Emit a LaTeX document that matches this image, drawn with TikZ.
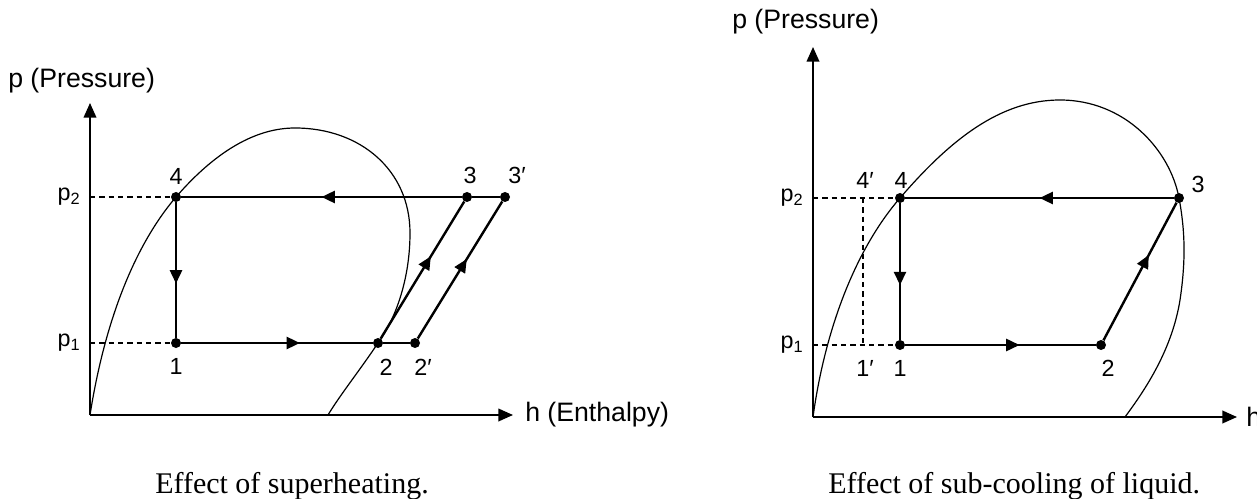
\documentclass[tikz,border=0pt]{standalone}
\usepackage{fontspec}
\setmainfont{Liberation Sans}
\newfontfamily\capfont{Liberation Serif}
\usetikzlibrary{arrows.meta,decorations.markings}
\begin{document}
\begin{tikzpicture}[x=0.75pt,y=-0.75pt,
  axis/.style={line width=1.3pt,-{Triangle[length=11pt,width=9.5pt]}},
  cyc/.style={line width=1.8pt},
  dome/.style={line width=0.9pt},
  guide/.style={line width=1.1pt,dash pattern=on 4pt off 3pt},
  dot/.style={circle,fill,inner sep=0pt,minimum size=7.5pt},
  lbl/.style={font=\fontsize{17.5}{18}\selectfont,inner sep=0pt},
  axlbl/.style={font=\fontsize{20}{22}\selectfont,inner sep=0pt},
  captext/.style={font=\capfont\fontsize{22.5}{24}\selectfont,inner sep=0pt,anchor=base west},
  midarrow/.style={postaction={decorate},decoration={markings,mark=at position #1 with {\arrow{Triangle[length=10pt,width=9pt]}}}},
]
\useasboundingbox (0,0) rectangle (1257,499);

% ---------------- left diagram ----------------
\coordinate (LO) at (90,415);
\coordinate (LY) at (90,103);
\coordinate (LX) at (513,415);
\draw[axis] (LO) -- (LY);
\draw[axis] (LO) -- (LX);
\node[axlbl,anchor=base west] (Lpl) at (8,88) {p (Pressure)};
\node[axlbl,anchor=west] (Lhl) at (525,415) {h (Enthalpy)};

\draw[dome] (LO) .. controls (105,320) and (135,245) .. (176,197)
  .. controls (215,152) and (255,128) .. (295,128)
  .. controls (360,128) and (410,170) .. (410,233)
  .. controls (410,280) and (395,320) .. (378,343)
  .. controls (360,370) and (340,395) .. (328,415);

\node[dot] (L4) at (176,197) {};
\node[dot] (L1) at (176,343) {};
\node[dot] (L2) at (378,343) {};
\node[dot] (L2p) at (415,343) {};
\node[dot] (L3) at (467,197) {};
\node[dot] (L3p) at (505,197) {};

\draw[guide] (LO |- L4) -- (L4);
\draw[guide] (LO |- L1) -- (L1);

\draw[cyc,midarrow=0.5] (L3) -- (L4);
\draw[cyc] (L3p) -- (L3);
\draw[cyc,midarrow=0.6] (L4) -- (L1);
\draw[cyc,midarrow=0.62] (L1) -- (L2);
\draw[cyc] (L2) -- (L2p);
\draw[cyc,midarrow=0.6] (L2) -- (L3);
\draw[cyc,midarrow=0.58] (L2p) -- (L3p);

\node[lbl] (Lp2) at (69,197) {p\textsubscript{2}};
\node[lbl] (Lp1) at (69,343) {p\textsubscript{1}};
\node[lbl] (Ll4) at (176,176) {4};
\node[lbl] (Ll1) at (176,366) {1};
\node[lbl] (Ll2) at (386,367) {2};
\node[lbl] (Ll2p) at (423,367) {2′};
\node[lbl] (Ll3) at (470,175) {3};
\node[lbl] (Ll3p) at (517,175) {3′};

\node[captext] (Lcap) at (155,493) {Effect of superheating.};

% ---------------- right diagram ----------------
\coordinate (RO) at (813,417);
\coordinate (RY) at (813,47);
\coordinate (RX) at (1237,417);
\draw[axis] (RO) -- (RY);
\draw[axis] (RO) -- (RX);
\node[axlbl,anchor=base west] (Rpl) at (732,29) {p (Pressure)};
\node[axlbl,anchor=west] (Rhl) at (1246,417) {h};

\draw[dome] (RO) .. controls (825,330) and (855,250) .. (900,198)
  .. controls (950,140) and (1000,100) .. (1060,100)
  .. controls (1125,100) and (1170,150) .. (1179,198)
  .. controls (1185,230) and (1186,260) .. (1180,300)
  .. controls (1172,350) and (1145,390) .. (1125,417);

\node[dot] (R4) at (900,198) {};
\node[dot] (R1) at (900,345) {};
\node[dot] (R2) at (1101,345) {};
\node[dot] (R3) at (1179,198) {};
\coordinate (R4p) at (863,198);
\coordinate (R1p) at (863,345);

\draw[guide] (RO |- R4) -- (R4);
\draw[guide] (RO |- R1) -- (R1);
\draw[guide] (R4p) -- (R1p);

\draw[cyc,midarrow=0.5] (R3) -- (R4);
\draw[cyc,midarrow=0.6] (R4) -- (R1);
\draw[cyc,midarrow=0.6] (R1) -- (R2);
\draw[cyc,midarrow=0.62] (R2) -- (R3);

\node[lbl] (Rp2) at (792,198) {p\textsubscript{2}};
\node[lbl] (Rp1) at (792,345) {p\textsubscript{1}};
\node[lbl] (Rl4p) at (865,180) {4′};
\node[lbl] (Rl4) at (901,180) {4};
\node[lbl] (Rl3) at (1198,184) {3};
\node[lbl] (Rl1p) at (865,368) {1′};
\node[lbl] (Rl1) at (900,368) {1};
\node[lbl] (Rl2) at (1108,368) {2};

\node[captext] (Rcap) at (828,493) {Effect of sub-cooling of liquid.};
\end{tikzpicture}
\end{document}
